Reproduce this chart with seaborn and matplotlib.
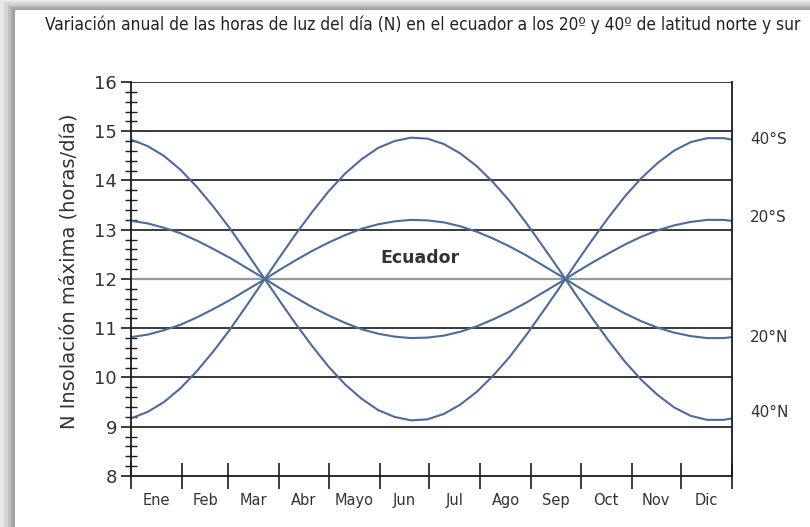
import numpy as np
import pandas as pd
import matplotlib
matplotlib.use("Agg")
import matplotlib.pyplot as plt
import matplotlib.transforms as mtransforms
from matplotlib.patches import Rectangle
from matplotlib.ticker import FixedLocator, MultipleLocator, NullFormatter
import seaborn as sns

# ---------------- data ----------------
days = [0, 10, 20, 30, 40, 50, 60, 70, 80, 90, 100, 110, 120, 130, 140, 150, 160,
        170, 180, 190, 200, 210, 220, 230, 240, 250, 260, 270, 280, 290, 300, 310,
        320, 330, 340, 350, 360, 365]

lat_40S = [14.83, 14.70, 14.50, 14.22, 13.87, 13.47, 13.03, 12.55, 12.06, 11.57,
           11.09, 10.64, 10.22, 9.86, 9.57, 9.34, 9.20, 9.13, 9.15, 9.26, 9.45,
           9.71, 10.04, 10.42, 10.86, 11.33, 11.81, 12.31, 12.79, 13.25, 13.68,
           14.05, 14.36, 14.61, 14.78, 14.86, 14.86, 14.83]
lat_20S = [13.18, 13.13, 13.04, 12.93, 12.78, 12.61, 12.43, 12.23, 12.03, 11.82,
           11.62, 11.43, 11.26, 11.11, 10.98, 10.89, 10.83, 10.80, 10.81, 10.85,
           10.93, 11.04, 11.18, 11.34, 11.52, 11.72, 11.92, 12.13, 12.33, 12.52,
           12.70, 12.86, 12.99, 13.09, 13.16, 13.20, 13.20, 13.18]
lat_20N = [10.82, 10.87, 10.96, 11.07, 11.22, 11.39, 11.57, 11.77, 11.97, 12.18,
           12.38, 12.57, 12.74, 12.89, 13.02, 13.11, 13.17, 13.20, 13.19, 13.15,
           13.07, 12.96, 12.82, 12.66, 12.48, 12.28, 12.08, 11.87, 11.67, 11.48,
           11.30, 11.14, 11.01, 10.91, 10.84, 10.80, 10.80, 10.82]
lat_40N = [9.17, 9.30, 9.50, 9.78, 10.13, 10.53, 10.97, 11.45, 11.94, 12.43,
           12.91, 13.36, 13.78, 14.14, 14.43, 14.66, 14.80, 14.87, 14.85, 14.74,
           14.55, 14.29, 13.96, 13.58, 13.14, 12.67, 12.19, 11.69, 11.21, 10.75,
           10.32, 9.95, 9.64, 9.39, 9.22, 9.14, 9.14, 9.17]

series_names = ["40°S", "20°S", "20°N", "40°N"]
series_label_y = [14.84, 13.24, 10.82, 9.29]

month_starts = [0, 31, 59, 90, 120, 151, 181, 212, 243, 273, 304, 334, 365]
month_labels = ["Ene", "Feb", "Mar", "Abr", "Mayo", "Jun", "Jul", "Ago", "Sep",
                "Oct", "Nov", "Dic"]
y_ticks = [8, 9, 10, 11, 12, 13, 14, 15, 16]

title = ("Variación anual de las horas de luz del día (N) en el ecuador a los "
         "20º y 40º de latitud norte y sur")
ylabel = "N Insolación máxima (horas/día)"

# ---------------- long-form table ----------------
frames = []
for name, vals in zip(series_names, [lat_40S, lat_20S, lat_20N, lat_40N]):
    frames.append(pd.DataFrame({"dia": days, "N": vals, "lat": name}))
df = pd.concat(frames, ignore_index=True)

# ---------------- figure ----------------
sns.set_theme(style="white")
plt.rcParams["font.family"] = ["DejaVu Sans"]

W, H = 810, 527
fig = plt.figure(figsize=(W / 100, H / 100), dpi=100)
fig.patch.set_facecolor("#e8e8e8")

# card shadow and white card
shadow = [(4, 2, "#d4d4d4"), (8, 5, "#bfbfbf"), (11, 7, "#aaaaaa"), (13, 9, "#9c9c9c")]
for px, py, col in shadow:
    fig.patches.append(Rectangle((px / W, 0), 1.2, 1 - py / H, transform=fig.transFigure,
                                 facecolor=col, edgecolor="none", zorder=-10))
fig.patches.append(Rectangle((15 / W, 0), 1.2, 1 - 10 / H, transform=fig.transFigure,
                             facecolor="white", edgecolor="none", zorder=-9))

left, right, top, bottom = 131, 732, 82, 476
ax = fig.add_axes([left / W, (H - bottom) / H, (right - left) / W, (bottom - top) / H])
ax.set_facecolor("none")

line_color = "#4a6b9e"
sns.lineplot(data=df, x="dia", y="N", hue="lat", palette={n: line_color for n in series_names},
             legend=False, ax=ax, linewidth=1.5, sort=False)

ax.set_xlim(0, 365)
ax.set_ylim(8, 16)

# horizontal grid lines
for yv in y_ticks[1:]:
    ax.axhline(yv, color="#999999" if yv == 12 else "#2a2a2a",
               lw=1.6 if yv == 12 else 1.3, zorder=0.5)

for side in ["left", "bottom", "right"]:
    ax.spines[side].set_visible(True)
    ax.spines[side].set_color("#1a1a1a")
    ax.spines[side].set_linewidth(1.3)
ax.spines["top"].set_visible(False)

# y ticks
ax.yaxis.set_major_locator(FixedLocator(y_ticks))
ax.yaxis.set_minor_locator(MultipleLocator(0.2))
ax.tick_params(axis="y", which="major", direction="out", length=7, width=1.2,
               color="#1a1a1a", labelsize=13, labelcolor="#333333", pad=3, left=True)
ax.tick_params(axis="y", which="minor", direction="inout", length=8, width=1.0,
               color="#1a1a1a", left=True)

# x ticks: month boundaries, labels between
ax.xaxis.set_major_locator(FixedLocator(month_starts))
ax.xaxis.set_major_formatter(NullFormatter())
mids = [(a + b) / 2 for a, b in zip(month_starts[:-1], month_starts[1:])]
ax.xaxis.set_minor_locator(FixedLocator(mids))
ax.set_xticklabels(month_labels, minor=True)
ax.tick_params(axis="x", which="major", direction="inout", length=19, width=1.2,
               color="#1a1a1a", bottom=True)
ax.tick_params(axis="x", which="minor", length=0, labelsize=10.5, labelcolor="#333333",
               pad=12, bottom=True)

ax.set_xlabel("")
ax.set_ylabel(ylabel, fontsize=14, color="#333333")
ax.yaxis.set_label_coords(-0.088, 0.52)

# labels
ax.text(175.5, 12.42, "Ecuador", fontsize=12.5, fontweight="bold", color="#333333",
        ha="center", va="center")
trans = mtransforms.blended_transform_factory(ax.transAxes, ax.transData)
for name, yv in zip(series_names, series_label_y):
    ax.text(1.03, yv, name, transform=trans, fontsize=11, color="#333333",
            ha="left", va="center")

fig.text(45 / W, 1 - 25 / H, title, fontsize=12.4, color="#222222", ha="left",
         va="center", fontstretch="condensed")

fig.savefig("out.png", dpi=100, facecolor=fig.get_facecolor())
